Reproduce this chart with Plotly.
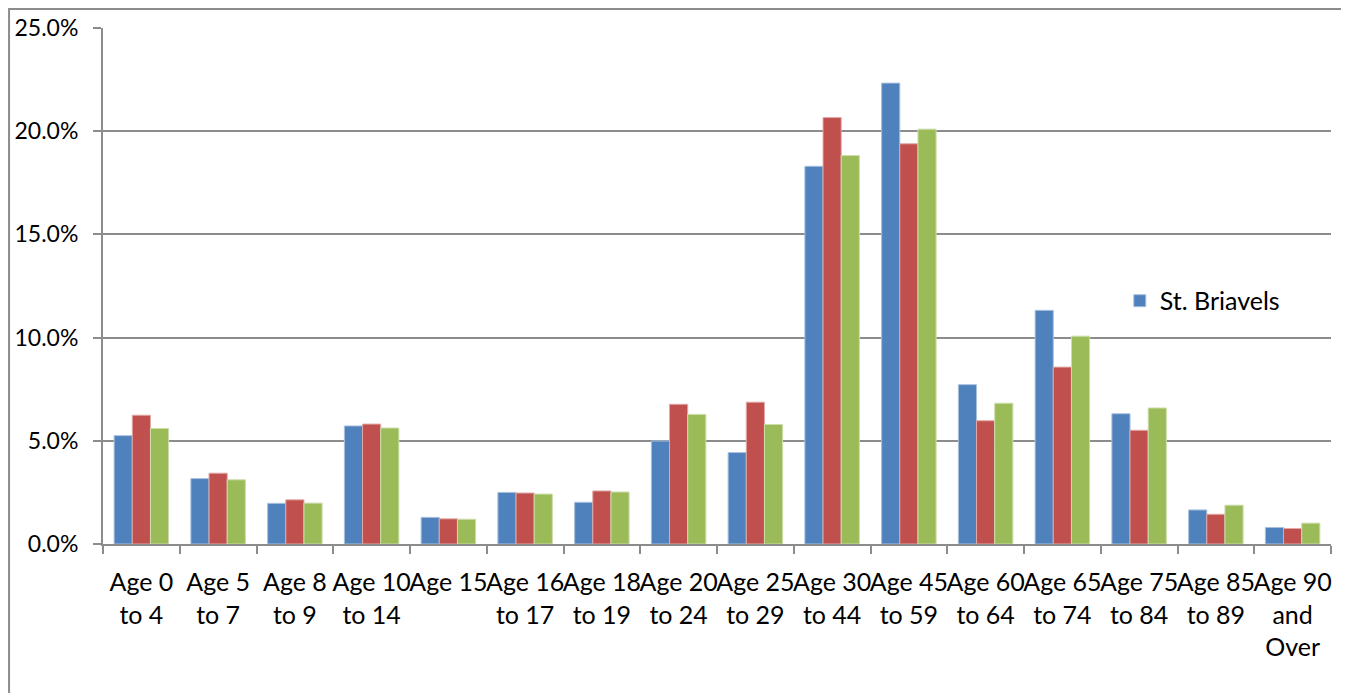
import plotly.graph_objects as go

categories = ["Age 0<br>to 4", "Age 5<br>to 7", "Age 8<br>to 9", "Age 10<br>to 14", "Age 15",
              "Age 16<br>to 17", "Age 18<br>to 19", "Age 20<br>to 24", "Age 25<br>to 29",
              "Age 30<br>to 44", "Age 45<br>to 59", "Age 60<br>to 64", "Age 65<br>to 74",
              "Age 75<br>to 84", "Age 85<br>to 89", "Age 90<br>and<br>Over"]

st_briavels = [5.25, 3.17, 1.97, 5.72, 1.29, 2.50, 2.02, 4.99, 4.43, 18.30, 22.33, 7.72, 11.32, 6.31, 1.65, 0.80]
series_2 = [6.24, 3.43, 2.14, 5.81, 1.22, 2.47, 2.57, 6.77, 6.87, 20.66, 19.39, 5.97, 8.57, 5.51, 1.44, 0.75]
series_3 = [5.60, 3.11, 1.98, 5.62, 1.20, 2.42, 2.52, 6.28, 5.79, 18.82, 20.10, 6.82, 10.07, 6.59, 1.88, 1.01]

names = ["St. Briavels", "Series 2", "Series 3"]
colors = ["#4F81BD", "#C0504D", "#9BBB59"]
edges = ["#A7C0DE", "#E0A8A6", "#CDDDAC"]
show = [True, False, False]

fig = go.Figure()
for name, vals, col, edge, sl in zip(names, [st_briavels, series_2, series_3], colors, edges, show):
    fig.add_trace(go.Bar(
        x=categories, y=[v / 100 for v in vals], name=name,
        marker=dict(color=col, line=dict(color=edge, width=1)),
        showlegend=sl,
    ))

font_family = "Lato, 'Open Sans', sans-serif"
grid = "#8C8C8C"

fig.update_layout(
    width=1349, height=693,
    margin=dict(l=95, r=26, t=20, b=157, autoexpand=False),
    paper_bgcolor="white", plot_bgcolor="white",
    barmode="group", bargap=0.29, bargroupgap=0,
    font=dict(family=font_family, size=23, color="black"),
    legend=dict(x=0.828, y=0.471, xanchor="left", yanchor="middle",
                font=dict(size=25), bgcolor="rgba(0,0,0,0)"),
    xaxis=dict(showline=True, linecolor=grid, linewidth=2,
               ticks="outside", ticklen=8, tickcolor=grid, tickwidth=2,
               tickson="boundaries", tickangle=0, ticklabelstandoff=15,
               tickfont=dict(size=25)),
    yaxis=dict(range=[0, 0.25], dtick=0.05, tickformat=".1%",
               showline=True, linecolor=grid, linewidth=2,
               showgrid=True, gridcolor=grid, gridwidth=2,
               ticks="outside", ticklen=8, tickcolor=grid, tickwidth=2,
               ticklabelstandoff=10,
               zeroline=False, tickfont=dict(size=23)),
    shapes=[dict(type="rect", xref="paper", yref="paper",
                 x0=-0.0765, x1=1.0122, y0=-0.32, y1=1.0368,
                 line=dict(color="#8C8C8C", width=2), layer="above")],
)

fig.write_html("out.html")
